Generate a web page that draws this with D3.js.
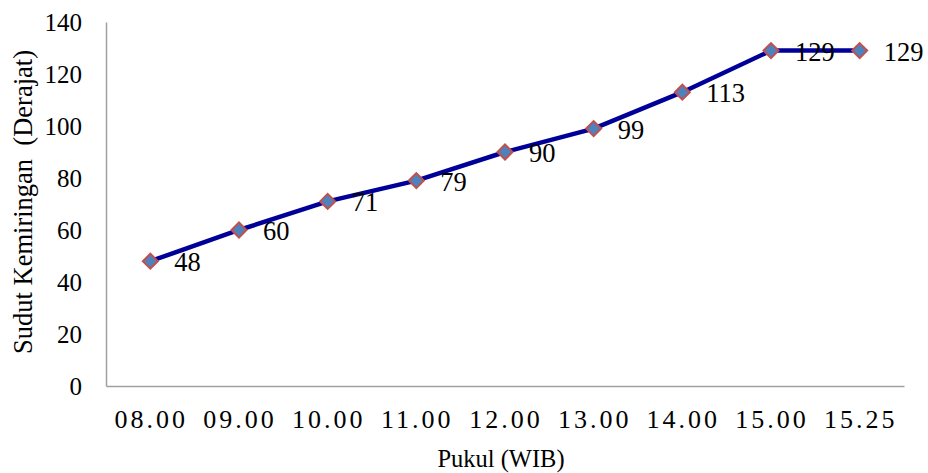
<!DOCTYPE html>
<html>
<head>
<meta charset="utf-8">
<script src="https://cdn.jsdelivr.net/npm/d3@7"></script>
<style>
  body { margin: 0; background: #fff; }
  svg text { font-family: "Liberation Serif", "Times New Roman", serif; fill: #000; }
</style>
</head>
<body>
<div id="chart"></div>
<script>
const categories = ["08.00", "09.00", "10.00", "11.00", "12.00", "13.00", "14.00", "15.00", "15.25"]
const values = [48, 60, 71, 79, 90, 99, 113, 129, 129]
const yTicks = [0, 20, 40, 60, 80, 100, 120, 140]

const width = 928
const height = 473
const margin = { top: 22, right: 24, bottom: 87, left: 106 }

const svg = d3.select("#chart")
  .append("svg")
  .attr("width", width)
  .attr("height", height)

const x = d3.scaleBand()
  .domain(categories)
  .range([margin.left, width - margin.right])

const y = d3.scaleLinear()
  .domain([0, 140])
  .range([height - margin.bottom, margin.top])

// axes
const yAxis = svg.append("g")
  .attr("transform", `translate(${margin.left},0)`)
  .call(d3.axisLeft(y).tickValues(yTicks).tickSize(0).tickPadding(24))
yAxis.select(".domain").attr("stroke", "#a0a0a0").attr("stroke-width", 1.5)
yAxis.selectAll("text").attr("font-size", 25).attr("dy", "0.35em")

const xAxis = svg.append("g")
  .attr("transform", `translate(0,${y(0)})`)
  .call(d3.axisBottom(x).tickSize(0))
xAxis.select(".domain").attr("stroke", "#a0a0a0").attr("stroke-width", 1.5)
xAxis.selectAll("text")
  .attr("font-size", 26)
  .attr("letter-spacing", "3px")
  .attr("y", 42)
  .attr("dy", 0)
  .attr("dx", 1)

// titles
svg.append("text")
  .attr("x", 501)
  .attr("y", 467)
  .attr("text-anchor", "middle")
  .attr("font-size", 24.5)
  .text("Pukul (WIB)")

svg.append("text")
  .attr("transform", `translate(32,202) rotate(-90)`)
  .attr("text-anchor", "middle")
  .attr("font-size", 26.5)
  .style("white-space", "pre")
  .text("Sudut Kemiringan  (Derajat)")

// line
const cx = (i) => x(categories[i]) + x.bandwidth() / 2

const line = d3.line()
  .x((d, i) => cx(i))
  .y((d) => y(d))

svg.append("path")
  .datum(values)
  .attr("fill", "none")
  .attr("stroke", "#000099")
  .attr("stroke-width", 4.5)
  .attr("d", line)

// labels
svg.append("g")
  .selectAll("text")
  .data(values)
  .join("text")
  .attr("x", (d, i) => cx(i) + 24)
  .attr("y", (d) => y(d) + 10)
  .attr("font-size", 26.5)
  .text((d) => d)

// markers
svg.append("g")
  .selectAll("path")
  .data(values)
  .join("path")
  .attr("transform", (d, i) => `translate(${cx(i)},${y(d)})`)
  .attr("d", "M0,-7.5L7.5,0L0,7.5L-7.5,0Z")
  .attr("fill", "#4f81bd")
  .attr("stroke", "#c0504d")
  .attr("stroke-width", 2)
</script>
</body>
</html>
